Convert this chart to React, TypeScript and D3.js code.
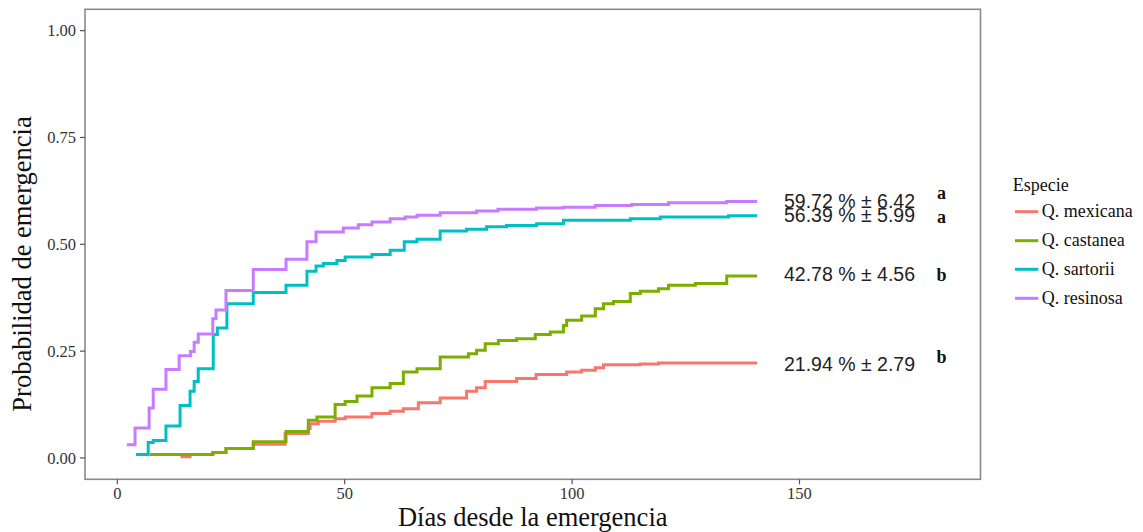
import React from "react";
import * as d3 from "d3";

const species = ["Q. mexicana", "Q. castanea", "Q. sartorii", "Q. resinosa"];
const colors = ["#F8766D", "#7CAE00", "#00BFC4", "#C77CFF"];

const mexicanaDays = [13.9, 16.0, 21.0, 23.9, 29.9, 36.9, 42.0, 42.4, 44.2, 47.9, 50.1, 56.0, 60.0, 62.9, 66.2, 71.0, 76.8, 79.0, 80.9, 87.8, 92.1, 98.8, 102.1, 105.1, 106.9, 115.0, 119.0, 140.7];
const mexicanaValues = [0.003, 0.008, 0.013, 0.022, 0.032, 0.057, 0.069, 0.080, 0.086, 0.092, 0.096, 0.104, 0.109, 0.115, 0.129, 0.140, 0.156, 0.164, 0.179, 0.186, 0.195, 0.201, 0.205, 0.211, 0.218, 0.220, 0.222, 0.222];

const castaneaDays = [7.2, 21.0, 23.9, 29.9, 37.1, 42.0, 43.9, 47.9, 50.1, 52.7, 56.0, 60.0, 62.9, 65.9, 71.0, 77.2, 79.0, 80.9, 83.8, 87.8, 91.9, 95.2, 98.1, 98.8, 102.1, 105.1, 106.9, 109.1, 112.8, 115.0, 119.0, 121.2, 127.1, 134.0, 140.7];
const castaneaValues = [0.008, 0.013, 0.022, 0.038, 0.062, 0.088, 0.096, 0.125, 0.132, 0.145, 0.164, 0.174, 0.201, 0.209, 0.236, 0.244, 0.252, 0.267, 0.275, 0.279, 0.289, 0.295, 0.310, 0.322, 0.332, 0.349, 0.361, 0.366, 0.385, 0.390, 0.396, 0.404, 0.408, 0.426, 0.426];

const sartoriiDays = [4.1, 6.8, 7.9, 10.7, 13.8, 16.0, 16.9, 17.8, 21.1, 22.0, 24.1, 29.9, 37.1, 41.7, 43.7, 45.3, 48.3, 50.1, 56.0, 60.0, 63.1, 65.9, 71.0, 76.8, 81.2, 85.6, 92.2, 98.1, 112.8, 119.4, 134.4, 140.7];
const sartoriiValues = [0.008, 0.036, 0.041, 0.075, 0.123, 0.156, 0.179, 0.209, 0.289, 0.304, 0.361, 0.387, 0.404, 0.437, 0.449, 0.455, 0.462, 0.470, 0.476, 0.486, 0.506, 0.512, 0.531, 0.535, 0.541, 0.544, 0.548, 0.556, 0.560, 0.564, 0.567, 0.567];

const resinosaDays = [2.1, 3.9, 7.0, 7.9, 10.7, 13.6, 16.1, 16.9, 17.8, 21.0, 21.7, 23.9, 29.9, 37.1, 41.7, 43.7, 49.7, 53.0, 56.0, 60.0, 63.3, 65.9, 71.0, 79.0, 83.7, 92.2, 98.1, 105.1, 113.1, 121.2, 134.0, 140.7];
const resinosaValues = [0.031, 0.070, 0.117, 0.161, 0.207, 0.239, 0.249, 0.271, 0.290, 0.326, 0.346, 0.392, 0.441, 0.465, 0.506, 0.529, 0.538, 0.546, 0.552, 0.560, 0.564, 0.568, 0.574, 0.578, 0.582, 0.585, 0.587, 0.591, 0.593, 0.597, 0.600, 0.600];

const xTicks = [0, 50, 100, 150];
const yTicks = [0, 0.25, 0.5, 0.75, 1.0];

const annotLabels = ["59.72 % ± 6.42", "56.39 % ± 5.99", "42.78 % ± 4.56", "21.94 % ± 2.79"];
const annotBaseline = [0.584, 0.552, 0.413, 0.204];
const annotDay = 161;
const letters = ["a", "a", "b", "b"];
const letterBaseline = [0.605, 0.549, 0.413, 0.222];
const letterDay = 181.2;

const seriesDays = [mexicanaDays, castaneaDays, sartoriiDays, resinosaDays];
const seriesValues = [mexicanaValues, castaneaValues, sartoriiValues, resinosaValues];

export default function App() {
  const W = 1143, H = 532;
  const left = 85, right = 980.5, top = 9.3, bottom = 479.3;
  const x = d3.scaleLinear().domain([-7.1, 189.8]).range([left, right]);
  const y = d3.scaleLinear().domain([-0.05, 1.05]).range([bottom, top]);
  const line = d3.line<[number, number]>()
    .x(d => x(d[0]))
    .y(d => y(d[1]))
    .curve(d3.curveStepAfter);
  const serif = "'Liberation Serif', 'Times New Roman', serif";
  const sans = "'Liberation Sans', Arial, sans-serif";
  const legendY = [211.7, 240.7, 269.3, 298.3];

  return (
    <svg width={W} height={H} style={{ position: "absolute", left: 0, top: 0, background: "#fff" }}>
      <rect x={0} y={0} width={W} height={H} fill="#fff" />
      {seriesDays.map((days, i) => (
        <path
          key={species[i]}
          d={line(days.map((dd, j) => [dd, seriesValues[i][j]] as [number, number])) || ""}
          fill="none"
          stroke={colors[i]}
          strokeWidth={3}
        />
      ))}
      <rect x={left} y={top} width={right - left} height={bottom - top} fill="none" stroke="#8a8a8a" strokeWidth={1.6} />
      {yTicks.map(t => (
        <g key={"y" + t}>
          <line x1={left - 5} x2={left} y1={y(t)} y2={y(t)} stroke="#555" strokeWidth={1.2} />
          <text x={left - 9} y={y(t)} dy="0.35em" textAnchor="end" fontFamily={serif} fontSize={16.5} fill="#333">
            {t.toFixed(2)}
          </text>
        </g>
      ))}
      {xTicks.map(t => (
        <g key={"x" + t}>
          <line x1={x(t)} x2={x(t)} y1={bottom} y2={bottom + 5} stroke="#555" strokeWidth={1.2} />
          <text x={x(t)} y={499} textAnchor="middle" fontFamily={serif} fontSize={16.5} fill="#333">
            {t}
          </text>
        </g>
      ))}
      <text x={(left + right) / 2} y={525.5} textAnchor="middle" fontFamily={serif} fontSize={26.5} fill="#111">
        Días desde la emergencia
      </text>
      <text transform={`translate(31,264) rotate(-90)`} textAnchor="middle" fontFamily={serif} fontSize={26.5} fill="#111">
        Probabilidad de emergencia
      </text>
      {annotLabels.map((lab, i) => (
        <text key={lab} x={x(annotDay)} y={y(annotBaseline[i])} textAnchor="middle" fontFamily={sans} fontSize={19.5} fill="#222">
          {lab}
        </text>
      ))}
      {letters.map((l, i) => (
        <text key={"l" + i} x={x(letterDay)} y={y(letterBaseline[i])} textAnchor="middle" fontFamily={serif} fontWeight="bold" fontSize={18} fill="#111">
          {l}
        </text>
      ))}
      <text x={1012.7} y={190.5} fontFamily={serif} fontSize={18} fill="#111">Especie</text>
      {species.map((s, i) => (
        <g key={"lg" + s}>
          <line x1={1015} x2={1038.3} y1={legendY[i]} y2={legendY[i]} stroke={colors[i]} strokeWidth={3} />
          <text x={1041.7} y={legendY[i] + 5.5} fontFamily={serif} fontSize={18} fill="#111">{s}</text>
        </g>
      ))}
    </svg>
  );
}
